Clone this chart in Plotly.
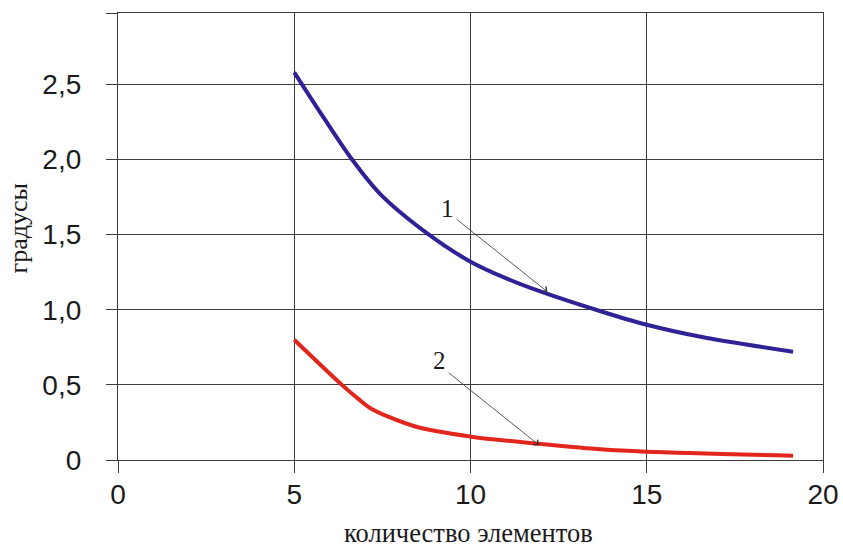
import plotly.graph_objects as go

# curve 1 (blue)
x1 = [5.0, 5.83, 6.64, 7.44, 8.82, 10.0, 11.0, 12.0, 13.69, 15.0, 16.53, 19.15]
y1 = [2.58, 2.28, 2.00, 1.77, 1.50, 1.32, 1.21, 1.12, 0.99, 0.90, 0.82, 0.72]
# curve 2 (red)
x2 = [5.0, 6.35, 6.8, 7.16, 8.39, 10.02, 12.0, 13.69, 15.0, 19.15]
y2 = [0.80, 0.50, 0.41, 0.345, 0.226, 0.155, 0.107, 0.071, 0.055, 0.029]

x_ticks = [0, 5, 10, 15, 20]
x_labels = ["0", "5", "10", "15", "20"]
y_ticks = [0, 0.5, 1.0, 1.5, 2.0, 2.5, 2.975]
y_labels = ["0", "0,5", "1,0", "1,5", "2,0", "2,5", ""]

x_title = "количество элементов"
y_title = "градусы"

BLUE = "#2f2196"
RED = "#e2261c"
GRID = "#3c3c3c"
SANS = "Liberation Sans, Arial, sans-serif"
SERIF = "Liberation Serif, Times New Roman, serif"

fig = go.Figure()
fig.add_trace(go.Scatter(x=x1, y=y1, mode="lines",
                         line=dict(color=BLUE, width=4, shape="spline", smoothing=0.9),
                         showlegend=False, hoverinfo="skip"))
fig.add_trace(go.Scatter(x=x2, y=y2, mode="lines",
                         line=dict(color=RED, width=4, shape="spline", smoothing=0.9),
                         showlegend=False, hoverinfo="skip"))

fig.update_layout(
    width=843, height=550,
    margin=dict(l=118, r=20, t=13, b=90, autoexpand=False),
    paper_bgcolor="white", plot_bgcolor="white",
    font=dict(family=SANS, color="#1a1a1a"),
)
fig.update_xaxes(
    range=[0, 20], tickvals=x_ticks, ticktext=x_labels,
    showgrid=True, gridcolor=GRID, gridwidth=1.3,
    showline=True, linecolor=GRID, linewidth=1.3, mirror=True,
    ticks="outside", ticklen=12, tickcolor=GRID, tickwidth=1.3,
    tickfont=dict(size=28, family=SANS, color="#1a1a1a"),
    ticklabelstandoff=-3, zeroline=False,
)
fig.update_yaxes(
    range=[0, 2.975], tickvals=y_ticks, ticktext=y_labels,
    showgrid=True, gridcolor=GRID, gridwidth=1.3,
    showline=True, linecolor=GRID, linewidth=1.3, mirror=True,
    ticks="outside", ticklen=11, tickcolor=GRID, tickwidth=1.3,
    tickfont=dict(size=28, family=SANS, color="#1a1a1a"),
    ticklabelstandoff=19, zeroline=False,
)

# axis titles
fig.add_annotation(text=x_title, xref="paper", yref="paper", x=0.497, y=-0.2013,
                   showarrow=False, font=dict(family=SERIF, size=26.5, color="#1a1a1a"),
                   xanchor="center", yanchor="bottom")
fig.add_annotation(text=y_title, xref="paper", yref="paper", x=-0.141, y=0.517,
                   textangle=-90, showarrow=False,
                   font=dict(family=SERIF, size=26, color="#1a1a1a"),
                   xanchor="center", yanchor="middle")

# curve labels and leader arrows
fig.add_annotation(text="1", x=9.36, y=1.674, xref="x", yref="y", showarrow=False,
                   font=dict(family=SERIF, size=25, color="#1a1a1a"))
fig.add_annotation(text="", x=12.18, y=1.12, ax=9.57, ay=1.609, xref="x", yref="y",
                   axref="x", ayref="y", showarrow=True, arrowhead=4, arrowsize=1.6,
                   arrowwidth=0.8, arrowcolor="#333333")
fig.add_annotation(text="2", x=9.13, y=0.659, xref="x", yref="y", showarrow=False,
                   font=dict(family=SERIF, size=25, color="#1a1a1a"))
fig.add_annotation(text="", x=11.94, y=0.10, ax=9.34, ay=0.588, xref="x", yref="y",
                   axref="x", ayref="y", showarrow=True, arrowhead=4, arrowsize=1.6,
                   arrowwidth=0.8, arrowcolor="#333333")

fig.write_html("out.html")
